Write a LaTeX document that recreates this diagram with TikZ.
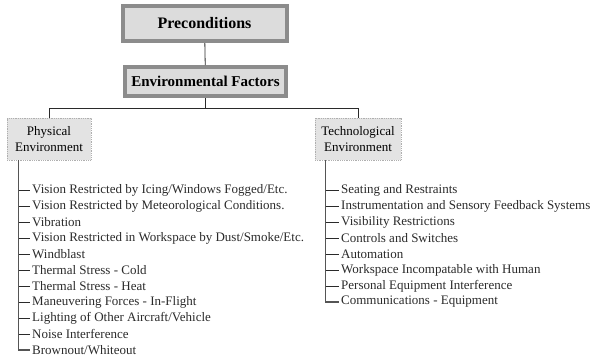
\documentclass[tikz,border=0pt]{standalone}
\usepackage{fontspec}
\setmainfont{Liberation Serif}
\usetikzlibrary{positioning}
\definecolor{band}{HTML}{8C8C8C}
\definecolor{shade}{HTML}{DCDCDC}
\definecolor{ink}{HTML}{2A2A2A}

\begin{document}
\begin{tikzpicture}[x=1pt,y=-1pt,
 topbox/.style={draw=band,line width=4pt,fill=shade,inner sep=0pt,font=\bfseries\fontsize{15}{18}\selectfont},
 envbox/.style={draw=band!70,densely dotted,line width=0.8pt,fill=shade!80,align=center,inner sep=0pt,
 minimum height=42pt,font=\fontsize{13}{16}\selectfont},
 item/.style={anchor=west,inner sep=2pt,text=ink,font=\fontsize{13}{15}\selectfont},
 tick/.style={draw=ink,line width=0.8pt},
 spine/.style={draw=ink!80,line width=1.3pt}]
\useasboundingbox (0,0) rectangle (595,360);
\node[topbox,minimum width=164pt,minimum height=35pt,font=\bfseries\fontsize{16}{19}\selectfont] (pre) at (204.5,23.5) {Preconditions};
\node[topbox,minimum width=161pt,minimum height=29pt] (env) at (205.5,81.5) {Environmental Factors};
\node[envbox,minimum width=84pt] (phys) at (49,139) {Physical\\Environment};
\node[envbox,minimum width=86pt] (tech) at (358,139) {Technological\\Environment};
\coordinate (split) at (205.5,108);
\draw[tick] (pre) -- (env);
\draw[tick] (env) -- (split) -| (phys);
\draw[tick] (split) -| (tech);
% physical list
\coordinate (pspine) at ([xshift=12pt]phys.south west);
\foreach \t [count=\i] in {Vision Restricted by Icing/Windows Fogged/Etc.,
 Vision Restricted by Meteorological Conditions.,Vibration,
 Vision Restricted in Workspace by Dust/Smoke/Etc.,Windblast,
 Thermal Stress - Cold,Thermal Stress - Heat,Maneuvering Forces - In-Flight,
 Lighting of Other Aircraft/Vehicle,Noise Interference,Brownout/Whiteout}
  \node[item] (p\i) at (30,174+16*\i) {\t};
\draw[spine] (pspine) |- (p11.west);
\foreach \i in {1,...,10}
  \draw[tick] (p\i.west -| pspine) -- (p\i.west);
% technological list
\coordinate (tspine) at ([xshift=11pt]tech.south west);
\foreach \t [count=\i] in {Seating and Restraints,
 Instrumentation and Sensory Feedback Systems,Visibility Restrictions,
 Controls and Switches,Automation,Workspace Incompatable with Human,
 Personal Equipment Interference,Communications - Equipment}
  \node[item] (t\i) at (339,174+16*\i) {\t};
\draw[spine] (tspine) |- (t8.west);
\foreach \i in {1,...,7}
  \draw[tick] (t\i.west -| tspine) -- (t\i.west);
\end{tikzpicture}
\end{document}
